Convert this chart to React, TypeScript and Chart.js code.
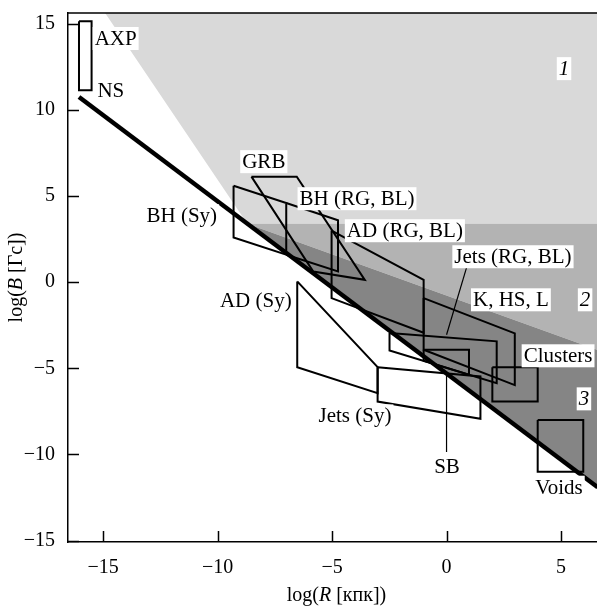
import React, { useEffect, useRef } from "react";
import { Chart, registerables } from "chart.js";
Chart.register(...registerables);

const FONT = "'Liberation Serif', 'Times New Roman', serif";

// axes
const xTickValues = [-15, -10, -5, 0, 5];
const yTickValues = [-15, -10, -5, 0, 5, 10, 15];
const xRange = [-16.53, 6.57];
const yRange = [-15.08, 15.63];

// Hillas line
const hillasX = [-16.05, 6.6];
const hillasY = [10.75, -11.9];

// shaded regions
const region1X = [-14.91, 6.57, 6.57, -8.7];
const region1Y = [15.63, 15.63, 3.4, 3.4];
const region2X = [-8.7, 6.57, 6.57];
const region2Y = [3.4, 3.4, -3.92];
const region3X = [-8.7, 6.57, 6.57];
const region3Y = [3.4, -3.92, -11.87];

// source regions
const axpX = [-16.05, -15.5, -15.5, -16.05, -16.05];
const axpY = [15.15, 15.15, 11.15, 11.15, 15.15];
const bhSyX = [-9.3, -7.0, -7.0, -9.3, -9.3];
const bhSyY = [5.6, 4.6, 1.6, 2.6, 5.6];
const bhRgX = [-7.0, -4.74, -4.74, -7.0];
const bhRgY = [4.6, 3.6, 0.63, 1.6];
const grbX = [-8.52, -6.54, -3.57, -5.82, -8.52];
const grbY = [6.13, 6.13, 0.14, 0.62, 6.13];
const adRgX = [-5.02, -1.0, -1.0, -5.02, -5.02];
const adRgY = [3.0, 0.14, -2.93, -0.92, 3.0];
const khslX = [-1.0, 2.98, 2.98, -1.0, -1.0];
const khslY = [-0.92, -2.97, -5.97, -3.92, -0.92];
const jetsRgX = [-2.49, 2.19, 2.19, -2.49, -2.49];
const jetsRgY = [-2.95, -3.43, -5.86, -3.96, -2.95];
const sbX = [-1.0, 0.98, 0.98, -1.0, -1.0];
const sbY = [-3.92, -3.92, -5.37, -4.56, -3.92];
const adSyX = [-6.52, -3.01, -3.01, -6.52, -6.52];
const adSyY = [0.05, -4.93, -6.44, -4.93, 0.05];
const jetsSyX = [-3.01, 1.48, 1.48, -3.01, -3.01];
const jetsSyY = [-4.93, -5.47, -7.93, -6.93, -4.93];
const clustersX = [2.0, 3.98, 3.98, 2.0, 2.0];
const clustersY = [-4.93, -4.93, -6.93, -6.93, -4.93];
const voidsX = [3.98, 5.97, 5.97, 3.98, 3.98];
const voidsY = [-8.0, -8.0, -11.0, -11.0, -8.0];

// leader lines
const jetsLeaderX = [0.87, 0.0];
const jetsLeaderY = [0.83, -3.05];
const sbLeaderX = [0.0, 0.0];
const sbLeaderY = [-5.3, -9.85];

// labels
const labelTexts = ["AXP", "NS", "GRB", "BH (Sy)", "BH (RG, BL)", "AD (RG, BL)", "Jets (RG, BL)", "K, HS, L", "AD (Sy)", "Jets (Sy)", "SB", "Clusters", "Voids", "1", "2", "3"];
const labelX = [-14.45, -14.66, -7.98, -11.56, -3.91, -1.82, 2.9, 2.81, -8.33, -4.0, 0.02, 4.87, 4.91, 5.13, 6.05, 6.0];
const labelY = [14.15, 11.13, 7.0, 3.86, 4.85, 2.99, 1.48, -1.02, -1.07, -7.76, -10.72, -4.27, -11.9, 12.4, -1.02, -6.77];
const labelItalic = [false, false, false, false, false, false, false, false, false, false, false, false, false, true, true, true];

const pts = (xs: number[], ys: number[]) => xs.map((x, i) => ({ x, y: ys[i] }));
const minus = (v: number) => String(v).replace("-", "\u2212");

export default function App() {
  const ref = useRef<HTMLCanvasElement>(null);
  useEffect(() => {
    document.body.style.margin = "0";
    const canvas = ref.current!;
    const outline = (xs: number[], ys: number[], w = 2) => ({
      data: pts(xs, ys), showLine: true, borderColor: "#000", borderWidth: w,
      pointRadius: 0, fill: false, order: 3, borderJoinStyle: "miter" as const,
    });
    const region = (xs: number[], ys: number[], color: string, order: number) => ({
      data: pts(xs, ys), showLine: true, borderWidth: 0, borderColor: "rgba(0,0,0,0)",
      backgroundColor: color, pointRadius: 0, fill: "shape", order,
    });

    const decor = {
      id: "decor",
      afterDatasetsDraw(chart: any) {
        const { ctx, scales: { x, y } } = chart;
        ctx.save();
        labelTexts.forEach((t, i) => {
          const px = x.getPixelForValue(labelX[i]);
          const py = y.getPixelForValue(labelY[i]);
          ctx.font = (labelItalic[i] ? "italic " : "") + "21px " + FONT;
          const w = ctx.measureText(t).width;
          ctx.fillStyle = "#fff";
          ctx.fillRect(px - w / 2 - 2, py - 11.5, w + 4, 23);
          ctx.fillStyle = "#000";
          ctx.textAlign = "center";
          ctx.textBaseline = "middle";
          ctx.fillText(t, px, py + 1);
        });
        ctx.restore();
      },
      afterDraw(chart: any) {
        const { ctx, chartArea: a, scales: { x, y } } = chart;
        ctx.save();
        ctx.strokeStyle = "#000";
        ctx.lineWidth = 1.5;
        ctx.beginPath();
        ctx.moveTo(a.left, a.top);
        ctx.lineTo(a.right, a.top);
        xTickValues.forEach((v) => {
          const px = Math.round(x.getPixelForValue(v)) + 0.5;
          ctx.moveTo(px, a.bottom);
          ctx.lineTo(px, a.bottom - 11);
        });
        yTickValues.forEach((v) => {
          const py = Math.round(y.getPixelForValue(v)) + 0.5;
          ctx.moveTo(a.left, py);
          ctx.lineTo(a.left + 11, py);
        });
        ctx.stroke();
        // axis titles
        const drawParts = (parts: [string, boolean][], cx: number, cy: number, rot: number) => {
          ctx.save();
          ctx.translate(cx, cy);
          ctx.rotate(rot);
          ctx.fillStyle = "#000";
          ctx.textBaseline = "middle";
          ctx.textAlign = "left";
          const fonts = parts.map(([, it]) => (it ? "italic " : "") + "20px " + FONT);
          const widths = parts.map(([t], i) => { ctx.font = fonts[i]; return ctx.measureText(t).width; });
          const total = widths.reduce((s, w) => s + w, 0);
          let xx = -total / 2;
          parts.forEach(([t], i) => { ctx.font = fonts[i]; ctx.fillText(t, xx, 0); xx += widths[i]; });
          ctx.restore();
        };
        drawParts([["log(", false], ["R", true], [" [кпк])", false]], (a.left + a.right) / 2 + 4, 596, 0);
        drawParts([["log(", false], ["B", true], [" [Гс])", false]], 17, (a.top + a.bottom) / 2, -Math.PI / 2);
        ctx.restore();
      },
    };

    const chart = new Chart(canvas, {
      type: "scatter",
      data: {
        datasets: [
          { ...outline(hillasX, hillasY, 4.5), order: 1 },
          outline(axpX, axpY),
          outline(bhSyX, bhSyY),
          outline(bhRgX, bhRgY),
          outline(grbX, grbY),
          outline(adRgX, adRgY),
          outline(khslX, khslY),
          outline(jetsRgX, jetsRgY),
          outline(sbX, sbY),
          outline(adSyX, adSyY),
          outline(jetsSyX, jetsSyY),
          outline(clustersX, clustersY),
          outline(voidsX, voidsY),
          outline(jetsLeaderX, jetsLeaderY, 1.2),
          outline(sbLeaderX, sbLeaderY, 1.2),
          region(region3X, region3Y, "#858585", 8),
          region(region2X, region2Y, "#b3b3b3", 9),
          region(region1X, region1Y, "#d9d9d9", 10),
        ] as any,
      },
      options: {
        responsive: false,
        animation: false,
        devicePixelRatio: 1,
        events: [],
        layout: { padding: { top: 13, right: 0, bottom: 0, left: 0 } },
        plugins: { legend: { display: false }, tooltip: { enabled: false } },
        scales: {
          x: {
            type: "linear",
            min: xRange[0],
            max: xRange[1],
            grid: { display: false, drawTicks: false },
            border: { display: true, color: "#000", width: 1.5 },
            ticks: { font: { family: FONT, size: 20 }, color: "#000", padding: 14, callback: (v: any) => minus(v), maxRotation: 0 },
            afterBuildTicks: (s: any) => { s.ticks = xTickValues.map((value) => ({ value })); },
            afterFit: (s: any) => { s.height = 65; s.paddingLeft = 0; s.paddingRight = 0; },
          },
          y: {
            type: "linear",
            min: yRange[0],
            max: yRange[1],
            grid: { display: false, drawTicks: false },
            border: { display: true, color: "#000", width: 1.5 },
            ticks: { font: { family: FONT, size: 20 }, color: "#000", padding: 13, callback: (v: any) => minus(v) },
            afterBuildTicks: (s: any) => { s.ticks = yTickValues.map((value) => ({ value })); },
            afterFit: (s: any) => { s.width = 68; s.paddingTop = 0; s.paddingBottom = 0; },
          },
        },
      } as any,
      plugins: [decor],
    });
    return () => chart.destroy();
  }, []);
  return <canvas ref={ref} width={597} height={607} style={{ display: "block" }} />;
}
